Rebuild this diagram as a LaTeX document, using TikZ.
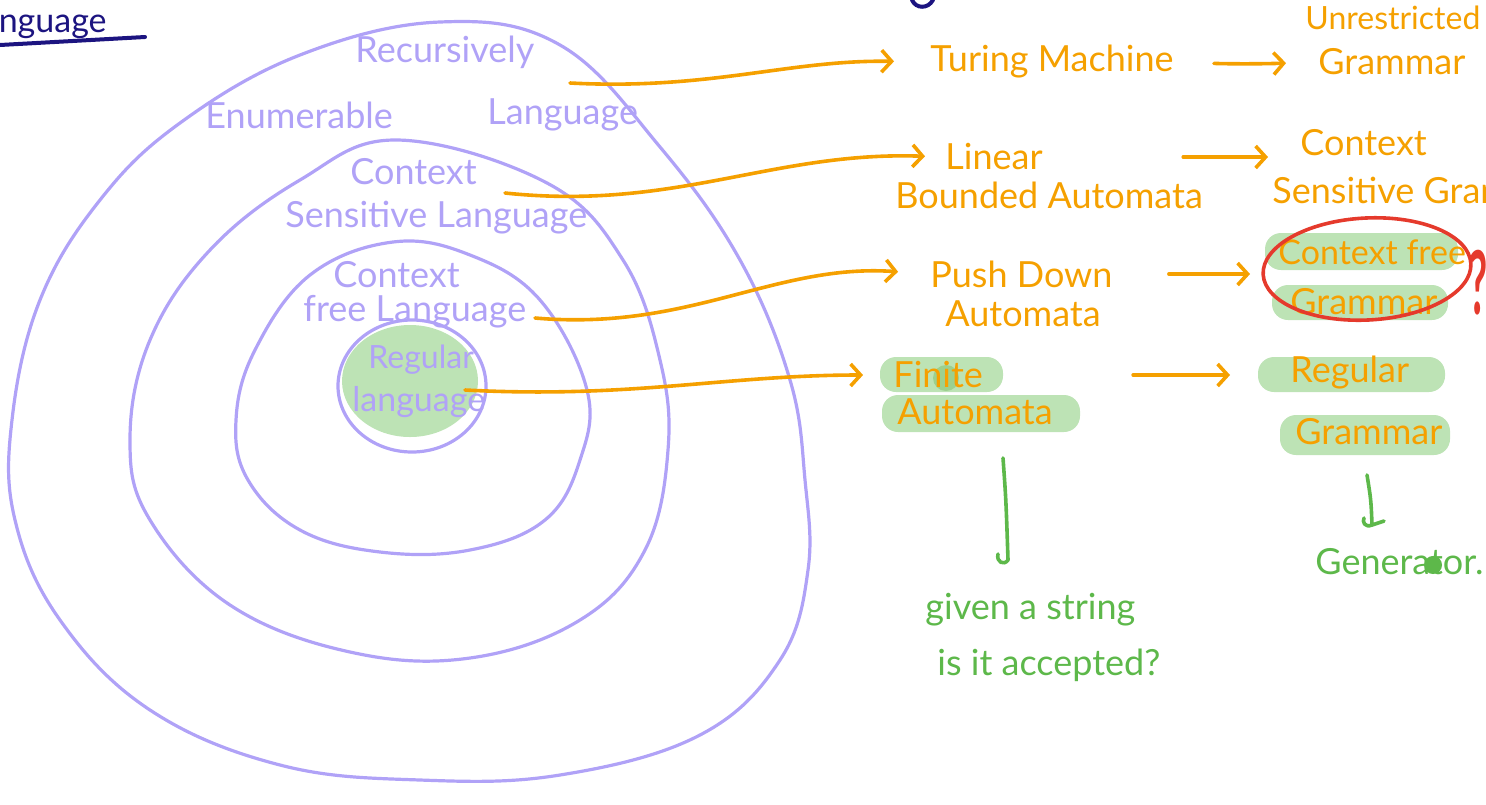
\documentclass[tikz,border=0pt]{standalone}
\usepackage{fontspec}
\setmainfont{Lato}
\usetikzlibrary{arrows.meta}

\definecolor{lav}{HTML}{B0A2F7}
\definecolor{ora}{HTML}{F5A000}
\definecolor{grn}{HTML}{5DB84A}
\definecolor{hlg}{HTML}{BDE3B5}
\definecolor{hld}{HTML}{9CD08F}
\definecolor{redm}{HTML}{E53A2C}
\definecolor{navy}{HTML}{1C1480}

\tikzset{
  label/.style={inner sep=0pt, anchor=west, font=\fontsize{18}{20}\selectfont},
  lavtxt/.style={label, text=lav},
  oratxt/.style={label, text=ora},
  grntxt/.style={label, text=grn},
  egg/.style={draw=lav, line width=1.6pt, line join=round},
  oarr/.style={draw=ora, line width=1.8pt, line cap=round,
    -{Straight Barb[length=5pt,width=11pt,line width=1.8pt]}},
  gline/.style={draw=grn, line width=1.8pt, line cap=round, line join=round},
  hl/.style={fill=hlg, rounded corners=8pt},
}

\begin{document}
\begin{tikzpicture}[x=0.5pt,y=-0.5pt]
\useasboundingbox (0,0) rectangle (1486,804);
\clip (0,0) rectangle (1486,804);

% nested language classes
\draw[egg] plot[smooth cycle, tension=0.65] coordinates {
  (440,22) (560,45) (660,147) (740,260) (790,380) (805,480) (808,570)
  (780,660) (700,735) (560,775) (420,780) (280,765) (150,710) (60,620)
  (15,520) (12,420) (40,300) (100,200) (180,123) (300,55)};
\draw[egg] plot[smooth cycle, tension=0.65] coordinates {
  (397,140) (547,183) (623,260) (660,360) (668,450) (645,550) (580,620)
  (470,658) (350,652) (230,605) (150,520) (130,440) (150,340) (210,250)
  (300,180)};
\draw[egg] plot[smooth cycle, tension=0.65] coordinates {
  (393,242) (470,255) (540,300) (587,390) (580,460) (545,520) (470,550)
  (380,552) (300,530) (248,480) (236,420) (255,350) (310,275)};
\fill[hlg] (410,381) ellipse [x radius=68, y radius=56];
\draw[egg] (412,386) ellipse [x radius=74, y radius=66];

% highlights behind the regular / context free entries
\fill[hl] (1265,233) rectangle (1458,270);
\fill[hl] (1272,285) rectangle (1448,320);
\fill[hl] (880,357) rectangle (1003,392);
\fill[hl] (882,395) rectangle (1080,432);
\fill[hl] (1258,357) rectangle (1445,392);
\fill[hl] (1280,415) rectangle (1450,455);
\fill[hld] (946,378) circle [radius=13];

% heading, running off the left edge
\node[inner sep=0pt, anchor=base west, text=navy, font=\fontsize{17}{20}\selectfont]
  (head) at (-36,32) {Language};
\draw[navy, line width=2pt, line cap=round] (0,45) -- (145,37);
\draw[navy, line width=2pt, line cap=round] (912,0) .. controls (916,9) and (928,9) .. (933,0);

% language labels
\node[lavtxt] (rec1) at (355,52) {Recursively};
\node[lavtxt] (rec2) at (205,115) {Enumerable};
\node[lavtxt] (rec3) at (487,115) {Language};
\node[lavtxt] (cs1) at (350,172) {Context};
\node[lavtxt] (cs2) at (285,218) {Sensitive Language};
\node[lavtxt] (cf1) at (333,275) {Context};
\node[lavtxt] (cf2) at (303,312) {free Language};
\node[lavtxt, font=\fontsize{16}{18}\selectfont] (rl1) at (368,360) {Regular};
\node[lavtxt, font=\fontsize{17}{19}\selectfont] (rl2) at (352,402) {language};

% machines
\node[oratxt] (tm) at (930,62) {Turing Machine};
\node[oratxt] (lba1) at (945,157) {Linear};
\node[oratxt] (lba2) at (895,195) {Bounded Automata};
\node[oratxt] (pda1) at (930,274) {Push Down};
\node[oratxt] (pda2) at (945,314) {Automata};
\node[oratxt] (fa1) at (893,375) {Finite};
\node[oratxt] (fa2) at (897,412) {Automata};

% grammars
\node[oratxt, font=\fontsize{16}{18}\selectfont] (ug1) at (1305,18) {Unrestricted};
\node[oratxt] (ug2) at (1318,62) {Grammar};
\node[oratxt] (csg1) at (1300,143) {Context};
\node[oratxt] (csg2) at (1272,190) {Sensitive Grammar};
\node[oratxt, font=\fontsize{17}{19}\selectfont] (cfg1) at (1278,252) {Context free};
\node[oratxt] (cfg2) at (1290,302) {Grammar};
\node[oratxt] (rg1) at (1290,373) {Regular};
\node[oratxt] (rg2) at (1295,432) {Grammar};

% red mark around context free grammar
\draw[redm, line width=1.8pt, rotate around={3:(1367,269)}] (1367,269) ellipse [x radius=104, y radius=51];
\node[inner sep=0pt, anchor=west, text=redm, xscale=0.45, transform shape,
  font=\bfseries\fontsize{44}{46}\selectfont] (qm) at (1469,283) {?};

% notes below
\node[grntxt] (q1) at (925,610) {given a string};
\node[grntxt] (q2) at (937,665) {is it accepted?};
\node[grntxt] (gen) at (1315,562) {Generator.};
\fill[grn] (1433,565) circle [radius=9];

% class -> machine
\coordinate (s1) at (570,83);
\coordinate (s2) at (505,193);
\coordinate (s3) at (535,318);
\coordinate (s4) at (465,390);
\draw[oarr, shorten >=18pt] (s1) to[out=-3, in=179] (tm.west);
\draw[oarr, shorten >=10pt] (s2) to[out=-6, in=178] (lba1.west);
\draw[oarr, shorten >=16pt] (s3) to[out=-5, in=176] (pda1.west);
\draw[oarr, shorten >=15pt] (s4) to[out=-3, in=180] (fa1.west);

% machine -> grammar
\draw[oarr, shorten <=20pt, shorten >=16pt] (tm.east) to[out=-2, in=182] (ug2.west);
\draw[oarr, shorten <=-10pt, shorten >=16pt] (lba2.east |- lba1.east) -- (csg1.west |- lba1.east);
\draw[oarr, shorten <=28pt, shorten >=20pt] (pda1.east) -- (cfg2.west |- pda1.east);
\draw[oarr, shorten <=40pt, shorten >=30pt] (fa2.east |- fa1.east) -- (rg1.west |- fa1.east);

% acceptor / generator pointers
\coordinate (h1) at (1003,458);
\coordinate (h2) at (1008,560);
\draw[gline] (h1) .. controls (1006,500) .. (h2) .. controls (1004,566) and (996,562) .. (998,554);
\coordinate (g1) at (1367,475);
\coordinate (g2) at (1372,525);
\draw[gline] (g1) .. controls (1371,500) .. (g2) -- (1384,521);
\draw[gline] (g2) .. controls (1365,528) and (1362,522) .. (1364,518);
\end{tikzpicture}
\end{document}
